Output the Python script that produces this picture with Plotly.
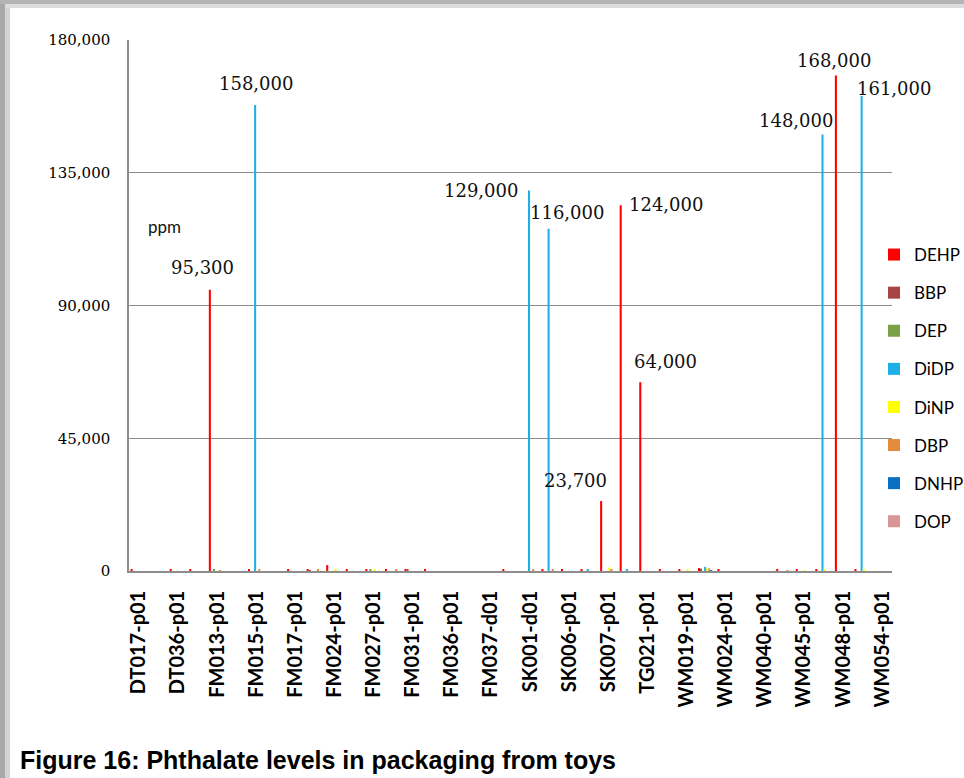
import plotly.graph_objects as go

# ---- data -------------------------------------------------------------
tick_labels = ["DT017-p01", "DT036-p01", "FM013-p01", "FM015-p01", "FM017-p01",
               "FM024-p01", "FM027-p01", "FM031-p01", "FM036-p01", "FM037-d01",
               "SK001-d01", "SK006-p01", "SK007-p01", "TG021-p01", "WM019-p01",
               "WM024-p01", "WM040-p01", "WM045-p01", "WM048-p01", "WM054-p01"]
n_samples = 39  # every second sample is labelled on the axis

series_names = ["DEHP", "BBP", "DEP", "DiDP", "DiNP", "DBP", "DNHP", "DOP"]
series_colors = ["#ff0000", "#a94444", "#79a046", "#1cb0e6", "#ffff00",
                 "#e38a3c", "#0a6fc2", "#d99694"]

DEHP = [400, 0, 400, 400, 95300, 0, 400, 0, 400, 600,
        2000, 500, 500, 500, 600, 500, 0, 0, 0, 500,
        0, 500, 600, 400, 23700, 124000, 64000, 500, 400, 1000,
        500, 0, 0, 400, 400, 500, 168000, 500, 0]
BBP = [0, 0, 0, 0, 0, 0, 0, 0, 0, 300,
       0, 0, 0, 0, 400, 0, 0, 0, 0, 0,
       0, 0, 0, 0, 0, 0, 0, 0, 0, 800,
       0, 0, 0, 0, 0, 0, 0, 0, 0]
DEP = [0, 0, 0, 0, 500, 0, 0, 0, 0, 0,
       0, 0, 400, 0, 0, 0, 0, 0, 0, 0,
       0, 0, 0, 0, 0, 0, 0, 0, 0, 0,
       0, 0, 0, 0, 0, 0, 0, 0, 0]
DiDP = [0, 0, 0, 0, 0, 0, 158000, 0, 0, 0,
        0, 0, 0, 0, 0, 0, 0, 0, 0, 0,
        129000, 116000, 0, 400, 0, 400, 0, 0, 0, 1400,
        0, 0, 0, 0, 0, 148000, 0, 161000, 0]
DiNP = [0, 0, 0, 0, 0, 0, 0, 0, 0, 0,
        500, 0, 500, 0, 0, 0, 0, 0, 0, 0,
        0, 0, 0, 0, 1200, 0, 0, 0, 400, 900,
        0, 0, 0, 0, 300, 400, 0, 400, 0]
DBP = [0, 0, 0, 0, 300, 0, 400, 0, 0, 400,
       0, 0, 0, 400, 0, 0, 0, 0, 0, 0,
       500, 500, 0, 0, 600, 0, 0, 0, 0, 900,
       0, 0, 0, 300, 0, 0, 0, 0, 0]
DNHP = [0] * 29 + [300] + [0] * 9
DOP = [0] * 39

series_values = [DEHP, BBP, DEP, DiDP, DiNP, DBP, DNHP, DOP]

# labelled bars: (series, sample index)
labelled = [("DEHP", 4), ("DiDP", 6), ("DiDP", 20), ("DiDP", 21), ("DEHP", 24),
            ("DEHP", 25), ("DEHP", 26), ("DiDP", 35), ("DEHP", 36), ("DiDP", 37)]
# label styling (anchor, xshift, yshift in px)
label_style = [("center", -15, 22), ("center", 0, 21), ("right", -10, 0),
               ("left", -22, 16), ("center", -33, 21), ("left", -1, 1),
               ("center", 18, 21), ("center", -28, 14), ("center", -9, 15),
               ("left", -8, 8)]

# ---- figure -----------------------------------------------------------
W, H = 964, 778
L, R, T, B = 129, 892, 40, 571

xs = list(range(n_samples))
fig = go.Figure()
for name, col, vals in zip(series_names, series_colors, series_values):
    fig.add_trace(go.Bar(x=xs, y=vals, name=name, marker_color=col,
                         marker_line_width=0, legendgroup=name))

serif = "DejaVu Serif"
sans = "Lato"

annotations = []
for (sname, idx), (anc, xs_, ys_) in zip(labelled, label_style):
    v = series_values[series_names.index(sname)][idx]
    annotations.append(dict(x=idx, y=v, xref="x", yref="y", text=f"{v:,}",
                            showarrow=False, xanchor=anc, yanchor="middle",
                            xshift=xs_, yshift=ys_,
                            font=dict(family=serif, size=18, color="#111111")))
annotations.append(dict(x=(146 - L) / (R - L), y=(B - 226) / (B - T),
                        xref="paper", yref="paper", text="ppm", showarrow=False,
                        xanchor="left", yanchor="middle",
                        font=dict(family=sans, size=17, color="#111111")))

shapes = [
    dict(type="rect", xref="paper", yref="paper",
         x0=(0 - L) / (R - L), x1=(5 - L) / (R - L),
         y0=(B - H) / (B - T), y1=(B - 0) / (B - T),
         fillcolor="#a8a8a8", line_width=0, layer="below"),
    dict(type="rect", xref="paper", yref="paper",
         x0=(5 - L) / (R - L), x1=(10 - L) / (R - L),
         y0=(B - H) / (B - T), y1=(B - 5) / (B - T),
         fillcolor="#d4d4d4", line_width=0, layer="below"),
    dict(type="rect", xref="paper", yref="paper",
         x0=(0 - L) / (R - L), x1=(W - L) / (R - L),
         y0=(B - 4) / (B - T), y1=(B - 0) / (B - T),
         fillcolor="#b4b4b4", line_width=0, layer="below"),
    dict(type="rect", xref="paper", yref="paper",
         x0=(5 - L) / (R - L), x1=(W - L) / (R - L),
         y0=(B - 8) / (B - T), y1=(B - 4) / (B - T),
         fillcolor="#dcdcdc", line_width=0, layer="below"),
]

fig.update_layout(
    width=W, height=H,
    margin=dict(l=L, r=W - R, t=T, b=H - B, autoexpand=False),
    paper_bgcolor="white", plot_bgcolor="white",
    barmode="group", bargap=0.16, bargroupgap=0,
    title=dict(text="<b>Figure 16: Phthalate levels in packaging from toys</b>",
               xref="container", yref="container", x=20 / W,
               y=1 - 760 / H, xanchor="left", yanchor="middle",
               font=dict(family="Liberation Sans", size=25, color="#000000")),
    xaxis=dict(range=[-0.5, n_samples - 0.5], tickmode="array",
               tickvals=xs[::2], ticktext=tick_labels, tickangle=-90,
               ticks="", showgrid=False, zeroline=False,
               showline=True, linecolor="#8c8c8c", linewidth=1.5,
               ticklabelstandoff=10,
               tickfont=dict(family=sans, size=20, color="#000000", weight="bold")),
    yaxis=dict(range=[0, 180000], tickmode="linear", tick0=0, dtick=45000,
               tickformat=",", ticks="", showgrid=True, gridcolor="#8c8c8c",
               gridwidth=1, zeroline=False, showline=True, linecolor="#8c8c8c",
               linewidth=1.5, ticklabelstandoff=14,
               tickfont=dict(family=serif, size=15, color="#000000")),
    legend=dict(x=(874 - L) / (R - L), xanchor="left",
                y=(B - 237) / (B - T), yanchor="top",
                bgcolor="rgba(0,0,0,0)", tracegroupgap=13,
                font=dict(family=sans, size=17, color="#000000"),
                itemclick=False),
    showlegend=True,
    annotations=annotations,
    shapes=shapes,
)

fig.write_html("out.html", config={"displayModeBar": False},
               post_script="document.body.style.margin='0';"
                           "document.body.style.overflow='hidden';")
